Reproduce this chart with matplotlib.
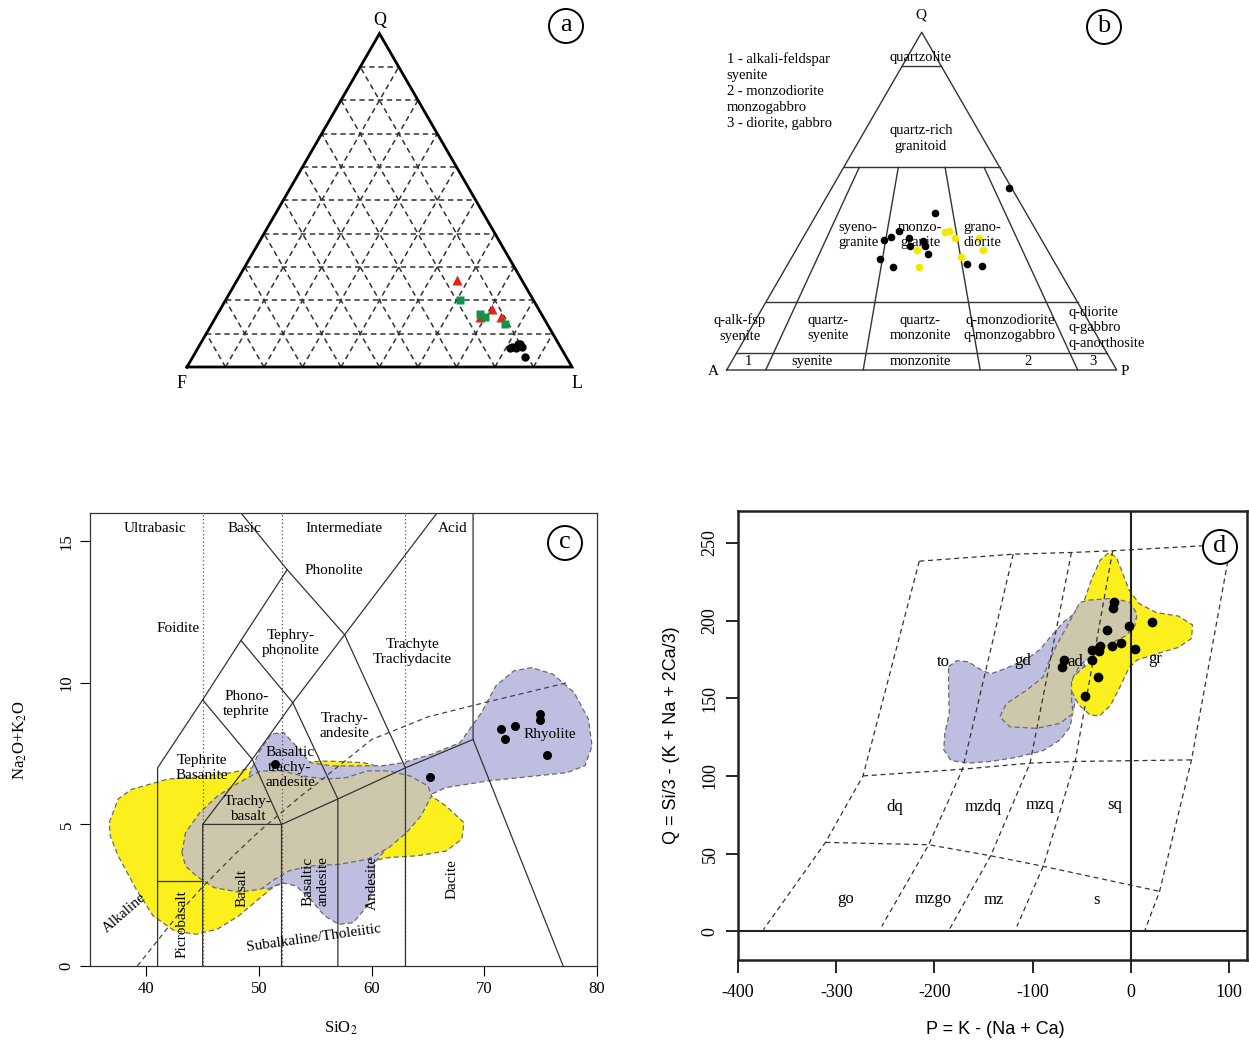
import numpy as np
import matplotlib
matplotlib.use("Agg")
import matplotlib.pyplot as plt
from matplotlib.patches import Polygon, Circle

plt.rcParams['font.family'] = ['Liberation Serif', 'DejaVu Serif']
plt.rcParams['mathtext.fontset'] = 'stix'
plt.rcParams['axes.unicode_minus'] = False

# ---------------- data ----------------
# (a) Q-F-L in percent (F = 100 - Q - L)
qfl_tri_q = [26, 17.5, 15, 15]
qfl_tri_l = [57, 70.5, 68.5, 74]
qfl_sq_q = [20, 16, 15, 13]
qfl_sq_l = [61, 68, 70, 76]
qfl_dot_q = [6, 5.7, 7, 6, 3, 7, 5.7]
qfl_dot_l = [81.5, 82.6, 83, 84, 86.3, 82.5, 81.1]

# (b) Q-A-P in percent (A = 100 - Q - P)
qap_black_q = [46.6, 41.3, 39.5, 38.5, 39.0, 38.3, 36.6, 36.6, 34.4, 32.8, 30.6, 31.4, 30.8, 54.0]
qap_black_p = [30.2, 23.6, 22.5, 21.1, 27.2, 31.1, 28.7, 32.5, 34.5, 22.9, 27.4, 45.8, 50.0, 45.5]
qap_yellow_q = [40.8, 41.1, 39.2, 35.6, 30.6, 39.2, 35.5, 33.4]
qap_yellow_p = [35.7, 36.5, 39.0, 31.0, 34.1, 45.1, 47.9, 43.4]
qap_q_levels = [90, 60, 20, 5]
qap_ratios = [10, 35, 65, 90]

# (c) TAS
tas_sio2 = [51.45, 65.15, 71.5, 71.8, 72.7, 74.95, 74.95, 75.55]
tas_alk = [7.13, 6.69, 8.36, 8.03, 8.48, 8.89, 8.69, 7.44]
tas_bounds = [
    [(41, 0), (41, 7), (45, 9.4), (48.4, 11.5), (52.5, 14), (48.4, 16)],
    [(45, 0), (45, 5), (49.4, 7.3), (53, 9.3), (57.6, 11.7), (65.8, 16)],
    [(45, 9.4), (49.4, 7.3), (52, 5), (52, 0)],
    [(48.4, 11.5), (53, 9.3), (57, 5.9), (57, 0)],
    [(52.5, 14), (57.6, 11.7), (63, 7), (63, 0)],
    [(45, 5), (52, 5), (57, 5.9), (63, 7), (69, 8), (69, 16)],
    [(69, 8), (77, 0)],
    [(41, 3), (45, 3)],
]
tas_dotted = [45, 52, 63]
irvine_sio2 = [39.2, 40, 43.2, 45, 48, 50, 53.7, 55, 60, 65, 70, 77.3]
irvine_alk = [0, 0.4, 2, 2.8, 4, 4.75, 6, 6.4, 8, 8.8, 9.3, 10.0]
tas_yellow = [(36.7, 5.06), (37.5, 5.9), (38.7, 6.24), (41.9, 6.6), (45.1, 6.71), (47.6, 6.83),
              (50.1, 7.07), (53, 7.18), (56.1, 7.24), (59.3, 7.18), (61.5, 6.95), (64.0, 6.36),
              (66.6, 5.65), (68.2, 5.06), (68.0, 4.48), (66.6, 4.06), (64.0, 3.89), (61.5, 3.83),
              (57.7, 3.53), (54.6, 3.18), (51.4, 2.83), (50.1, 2.41), (48.2, 1.77), (46.3, 1.3),
              (44.4, 1.12), (42.5, 1.24), (40.6, 1.77), (39.1, 2.71), (37.5, 3.89), (36.8, 4.59)]
tas_purple = [(48.86, 6.48), (49.97, 7.54), (51.08, 8.19), (52.18, 8.25), (53.29, 7.77), (54.56, 7.18),
              (56.46, 7.07), (60.89, 7.07), (62.78, 7.18), (65.32, 7.48), (67.85, 7.89), (69.75, 8.95),
              (71.01, 9.89), (72.59, 10.42), (74.18, 10.54), (76.08, 10.31), (77.97, 9.66), (79.24, 8.72),
              (79.56, 7.77), (78.92, 7.07), (77.34, 6.83), (74.49, 6.71), (70.38, 6.54), (66.58, 6.30),
              (65.0, 6.01), (63.42, 5.18), (62.47, 4.59), (61.52, 4.24), (60.25, 3.65), (60.25, 2.94),
              (59.62, 2.12), (58.35, 1.53), (57.09, 1.47), (55.82, 1.77), (54.56, 2.36), (53.29, 2.83),
              (52.03, 2.94), (50.76, 2.71), (49.49, 2.83), (48.23, 3.18), (47.28, 4.12), (47.91, 5.65)]
tas_grey = [(43.16, 4.00), (43.48, 4.71), (44.75, 5.42), (46.33, 6.01), (48.23, 6.48), (50.13, 6.89),
            (52.03, 6.89), (53.92, 6.71), (55.82, 6.60), (57.72, 6.65), (59.62, 6.89), (61.52, 6.89),
            (63.42, 6.71), (65.0, 6.36), (65.32, 6.01), (64.37, 5.30), (63.10, 4.71), (61.52, 4.18),
            (59.62, 3.77), (57.09, 3.59), (54.56, 3.53), (52.66, 3.36), (51.39, 3.06), (50.13, 2.71),
            (48.23, 2.61), (46.01, 2.77), (44.43, 3.18), (43.48, 3.53)]

# (d) P-Q (Debon & Le Fort)
pq_p = [-16.8, -18.4, 21.3, -1.8, -24.1, -10.5, -19.3, 4.4, -31.4, -32.2, -39.7, -39.2, -68.0, -70.4, -33.1, -46.3]
pq_q = [211.7, 208.1, 198.9, 196.2, 194.0, 185.5, 183.5, 181.4, 183.3, 180.3, 180.8, 174.8, 174.8, 170.1, 163.7, 151.3]
pq_grid = [
    [(-215.4, 238.2), (-119.8, 242.7), (-60.5, 243.8), (-18.5, 244.9), (101.9, 249.1)],
    [(-272.7, 100.0), (-171.4, 104.3), (-102.6, 108.2), (-56.7, 109.3), (61.8, 110.3)],
    [(-310.9, 57.2), (-205.8, 55.7), (-142.7, 48.6), (-89.2, 41.8), (29.3, 25.7)],
    [(-215.4, 238.2), (-272.7, 100.0), (-310.9, 57.2), (-374.0, 1.1)],
    [(-119.8, 242.7), (-171.4, 104.3), (-205.8, 55.7), (-253.6, 3.2)],
    [(-60.5, 243.8), (-102.6, 108.2), (-142.7, 48.6), (-184.8, 1.1)],
    [(-18.5, 244.9), (-56.7, 109.3), (-89.2, 41.8), (-116.0, 3.2)],
    [(101.9, 249.1), (61.8, 110.3), (29.3, 25.7), (14.0, 0.0)],
]
pq_purple = [(-185.6, 170.3), (-177.1, 174.2), (-165.7, 173.5), (-152.3, 168.2), (-142.7, 165.6),
             (-127.4, 169.2), (-106.4, 175.0), (-93.0, 181.0), (-81.6, 189.6), (-68.2, 199.2),
             (-54.8, 205.7), (-43.3, 209.3), (-40, 190), (-50, 165), (-58.6, 142.5), (-61.7, 131.7),
             (-72.0, 123.2), (-89.2, 116.3), (-116.0, 112.0), (-142.7, 109.3), (-165.7, 108.2),
             (-182.9, 109.9), (-190.5, 116.8), (-189.4, 127.5), (-184.8, 140.3), (-185.6, 155.3)]
pq_yellow = [(-47.2, 213.2), (-40.3, 226.0), (-31.1, 238.9), (-22.3, 243.8), (-14.7, 240.6),
             (-8.2, 230.3), (-2.1, 220.0), (8.3, 211.0), (25.5, 205.2), (48.4, 202.9), (62.9, 197.1),
             (61.8, 188.5), (48.4, 182.7), (25.5, 178.4), (6.3, 174.6), (-2.1, 169.2), (-10.9, 157.5),
             (-20.4, 145.7), (-31.9, 138.6), (-41.4, 139.2), (-52.9, 145.7), (-61.7, 156.4),
             (-58.6, 163.9), (-43.3, 172.5), (-45, 195)]
pq_grey = [(-55.3, 207.5), (-51.9, 211.7), (-41.8, 213.2), (-18.0, 214.3), (-1.0, 211.7), (6.4, 204.3),
           (4.1, 196.8), (-4.4, 190.4), (-18.0, 186.1), (-34.9, 179.7), (-51.9, 171.2), (-60.4, 161.5),
           (-60.4, 148.7), (-58.7, 140.2), (-72.3, 133.8), (-96.0, 130.6), (-123.2, 131.6),
           (-133.4, 138.0), (-126.6, 146.6), (-106.2, 155.1), (-89.3, 163.7), (-84.2, 172.2),
           (-75.7, 184.0), (-65.5, 195.7)]

YELLOW = '#fbef1e'
PURPLE = '#bebee0'
GREY = '#cdc8ab'
EDGE = '#6a6a6a'

W, HP = 1249, 1044
H = np.sqrt(3) / 2
fig = plt.figure(figsize=(W / 100, HP / 100), dpi=100)


def px_axes(x0, y0, x1, y1):
    return fig.add_axes([x0 / W, 1 - y1 / HP, (x1 - x0) / W, (y1 - y0) / HP])


def tern(q, right):
    q = np.asarray(q, float) / 100
    r = np.asarray(right, float) / 100
    return r + q / 2, q * H


# ---------------- (a) QFL ----------------
ax = px_axes(150, 10, 610, 400)
s, ox, oy = 385.0, 187.0, 367.0
ax.set_xlim((150 - ox) / s, (610 - ox) / s)
ax.set_ylim((oy - 400) / s, (oy - 10) / s)
ax.axis('off')
dash = (0, (3.5, 2.5))
for k in range(1, 10):
    f = k / 10
    ax.plot([f / 2, 1 - f / 2], [f * H, f * H], color='#333', lw=1.1, ls=dash)
    ax.plot([f, f + (1 - f) / 2], [0, (1 - f) * H], color='#333', lw=1.1, ls=dash)
    ax.plot([1 - f, (1 - f) / 2], [0, (1 - f) * H], color='#333', lw=1.1, ls=dash)
ax.plot([0, 1, 0.5, 0], [0, 0, H, 0], color='black', lw=2, solid_joinstyle='miter')
x, y = tern(qfl_tri_q, qfl_tri_l)
ax.plot(x, y, '^', color='#e3231c', ms=6.5, mec='none', ls='none')
x, y = tern(qfl_sq_q, qfl_sq_l)
ax.plot(x, y, 's', color='#12934a', ms=6, mec='none', ls='none')
x, y = tern(qfl_dot_q, qfl_dot_l)
ax.plot(x, y, 'o', color='black', ms=6, mec='none', ls='none')
ax.text(0.5, H + 0.035, 'Q', ha='center', va='center', fontsize=13)
ax.text(-0.013, -0.042, 'F', ha='center', va='center', fontsize=13)
ax.text(1.013, -0.042, 'L', ha='center', va='center', fontsize=13)

# ---------------- (b) QAP ----------------
ax = px_axes(690, 5, 1160, 395)
s, ox, oy = 390.0, 726.7, 370.0
ax.set_xlim((690 - ox) / s, (1160 - ox) / s)
ax.set_ylim((oy - 395) / s, (oy - 5) / s)
ax.axis('off')
lc = '#333'
ax.plot([0, 1, 0.5, 0], [0, 0, H, 0], color=lc, lw=1.0)
for ql in qap_q_levels:
    f = ql / 100
    ax.plot([f / 2, 1 - f / 2], [f * H, f * H], color=lc, lw=1.0)
for r in qap_ratios:
    top = 0.6
    ax.plot([(1 - top) * r / 100 + top / 2, r / 100], [top * H, 0], color=lc, lw=1.0)
x, y = tern(qap_black_q, qap_black_p)
ax.plot(x, y, 'o', color='black', ms=5.5, mec='none', ls='none')
x, y = tern(qap_yellow_q, qap_yellow_p)
ax.plot(x, y, 'o', color='#f5e600', ms=5.5, mec='none', ls='none')
fs = 10.5
for txt, tx, ty, ha in [
        ('quartzolite', 0.498, 0.802, 'center'),
        ('quartz-rich\ngranitoid', 0.498, 0.594, 'center'),
        ('syeno-\ngranite', 0.337, 0.346, 'center'),
        ('monzo-\ngranite', 0.496, 0.346, 'center'),
        ('grano-\ndiorite', 0.656, 0.346, 'center'),
        ('q-alk-fsp\nsyenite', 0.034, 0.108, 'center'),
        ('quartz-\nsyenite', 0.261, 0.108, 'center'),
        ('quartz-\nmonzonite', 0.496, 0.108, 'center'),
        ('q-monzodiorite\nq-monzogabbro', 0.726, 0.108, 'center'),
        ('q-diorite\nq-gabbro\nq-anorthosite', 0.876, 0.108, 'left'),
        ('1', 0.055, 0.021, 'center'),
        ('syenite', 0.218, 0.021, 'center'),
        ('monzonite', 0.496, 0.021, 'center'),
        ('2', 0.773, 0.021, 'center'),
        ('3', 0.94, 0.021, 'center')]:
    ax.text(tx, ty, txt, ha=ha, va='center', fontsize=fs, linespacing=1.25,
            multialignment='center' if ha == 'center' else 'left')
ax.text(-0.034, -0.004, 'A', ha='center', va='center', fontsize=11)
ax.text(1.021, -0.004, 'P', ha='center', va='center', fontsize=11)
ax.text(0.498, 0.91, 'Q', ha='center', va='center', fontsize=11)
ax.text(0.0, 0.815, '1 - alkali-feldspar\nsyenite\n2 - monzodiorite\nmonzogabbro\n3 - diorite, gabbro',
        ha='left', va='top', fontsize=fs, linespacing=1.3)

# ---------------- (c) TAS ----------------
ax = px_axes(90, 513, 597, 966)
ax.set_xlim(35, 80)
ax.set_ylim(0, 16)
edge_kw = dict(ec=EDGE, ls=(0, (4, 2.5)), lw=0.9)
ax.add_patch(Polygon(np.array(tas_yellow), closed=True, fc=YELLOW, zorder=1, **edge_kw))
ax.add_patch(Polygon(np.array(tas_purple), closed=True, fc=PURPLE, zorder=1.1, **edge_kw))
ax.add_patch(Polygon(np.array(tas_grey), closed=True, fc=GREY, zorder=1.2, **edge_kw))
for xv in tas_dotted:
    ax.plot([xv, xv], [0, 16], color='#555', lw=0.9, ls=(0, (1, 2)), zorder=2)
for seg in tas_bounds:
    seg = np.array(seg)
    ax.plot(seg[:, 0], seg[:, 1], color='#333', lw=0.9, zorder=3)
ax.plot(irvine_sio2, irvine_alk, color='#444', lw=0.9, ls=(0, (4, 3)), zorder=3)
ax.plot(tas_sio2, tas_alk, 'o', color='black', ms=6.5, mec='none', ls='none', zorder=5)
fs = 11
for txt, tx, ty, rot in [
        ('Ultrabasic', 40.8, 15.45, 0), ('Basic', 48.7, 15.45, 0),
        ('Intermediate', 57.56, 15.45, 0), ('Acid', 67.15, 15.45, 0),
        ('Phonolite', 56.68, 13.96, 0), ('Foidite', 42.8, 11.92, 0),
        ('Tephry-\nphonolite', 52.8, 11.4, 0), ('Trachyte\nTrachydacite', 63.6, 11.1, 0),
        ('Phono-\ntephrite', 48.9, 9.25, 0), ('Trachy-\nandesite', 57.6, 8.48, 0),
        ('Tephrite\nBasanite', 44.9, 7.0, 0), ('Basaltic\ntrachy-\nandesite', 52.75, 7.0, 0),
        ('Trachy-\nbasalt', 49.0, 5.55, 0), ('Rhyolite', 75.8, 8.19, 0),
        ('Picrobasalt', 43.16, 1.47, 90), ('Basalt', 48.48, 2.77, 90),
        ('Basaltic\nandesite', 55.0, 3.0, 90), ('Andesite', 60.1, 2.94, 90),
        ('Dacite', 67.15, 3.06, 90), ('Alkaline', 38.1, 1.88, 41),
        ('Subalkaline/Tholeiitic', 54.87, 1.0, 8)]:
    ax.text(tx, ty, txt, ha='center', va='center', fontsize=fs, rotation=rot,
            linespacing=1.2, rotation_mode='anchor', zorder=6)
ax.set_xticks([40, 50, 60, 70, 80])
ax.set_yticks([0, 5, 10, 15])
ax.tick_params(direction='out', length=7, width=0.8, labelsize=12, pad=4)
for lab in ax.get_yticklabels():
    lab.set_rotation(90)
    lab.set_va('center')
for sp in ax.spines.values():
    sp.set_linewidth(0.9)
    sp.set_color('#333')

# ---------------- (d) P-Q ----------------
ax = px_axes(738, 511, 1247, 960)
ax.set_xlim(-400, 118.3)
ax.set_ylim(-18.5, 270.5)
ax.add_patch(Polygon(np.array(pq_purple), closed=True, fc=PURPLE, zorder=1, **edge_kw))
ax.add_patch(Polygon(np.array(pq_yellow), closed=True, fc=YELLOW, zorder=1.1, **edge_kw))
ax.add_patch(Polygon(np.array(pq_grey), closed=True, fc=GREY, zorder=1.2, **edge_kw))
for seg in pq_grid:
    seg = np.array(seg)
    ax.plot(seg[:, 0], seg[:, 1], color='#333', lw=0.9, ls=(0, (4, 3)), zorder=3)
ax.axhline(0, color='#222', lw=1.5, zorder=3)
ax.axvline(0, color='#222', lw=1.5, zorder=3)
ax.plot(pq_p, pq_q, 'o', color='black', ms=7, mec='none', ls='none', zorder=5)
for txt, tx, ty in [('to', -190.5, 173.1), ('gd', -110.2, 174.2), ('ad', -56.7, 173.1),
                    ('gr', 24.7, 175.2), ('dq', -240.2, 80.3), ('mzdq', -150.4, 80.3),
                    ('mzq', -92.3, 81.4), ('sq', -16.6, 81.4), ('go', -289.9, 21.0),
                    ('mzgo', -200.8, 21.0), ('mz', -139.7, 20.4), ('s', -34.9, 20.4)]:
    ax.text(tx, ty, txt, ha='center', va='center', fontsize=12, zorder=6)
ax.set_xticks([-400, -300, -200, -100, 0, 100])
ax.set_yticks([0, 50, 100, 150, 200, 250])
ax.tick_params(direction='out', length=9, width=1.2, labelsize=13)
ax.tick_params(axis='x', pad=8)
ax.tick_params(axis='y', pad=5)
for lab in ax.get_yticklabels():
    lab.set_rotation(90)
    lab.set_va('center')
for sp in ax.spines.values():
    sp.set_linewidth(1.8)
    sp.set_color('#222')

# ---------------- overlay: panel letters and axis titles ----------------
ov = fig.add_axes([0, 0, 1, 1], zorder=10)
ov.set_xlim(0, W)
ov.set_ylim(HP, 0)
ov.axis('off')
ov.patch.set_alpha(0)
for letter, cx, cy in [('a', 566, 26), ('b', 1104, 27), ('c', 565, 543), ('d', 1220, 547)]:
    ov.add_patch(Circle((cx, cy), 17, fc='white', ec='black', lw=1.4))
    ov.text(cx, cy - 1, letter, ha='center', va='center', fontsize=19)
ov.text(20, 740, 'Na$_2$O+K$_2$O', rotation=90, ha='center', va='center', fontsize=12)
ov.text(341, 1028, 'SiO$_2$', ha='center', va='center', fontsize=12)
ov.text(672, 735, 'Q = Si/3 - (K + Na + 2Ca/3)', rotation=90, ha='center', va='center',
        fontsize=13, family=['Liberation Sans', 'DejaVu Sans'])
ov.text(995, 1030, 'P = K - (Na + Ca)', ha='center', va='center', fontsize=13,
        family=['Liberation Sans', 'DejaVu Sans'])

fig.savefig('out.png', dpi=100, facecolor='white')
